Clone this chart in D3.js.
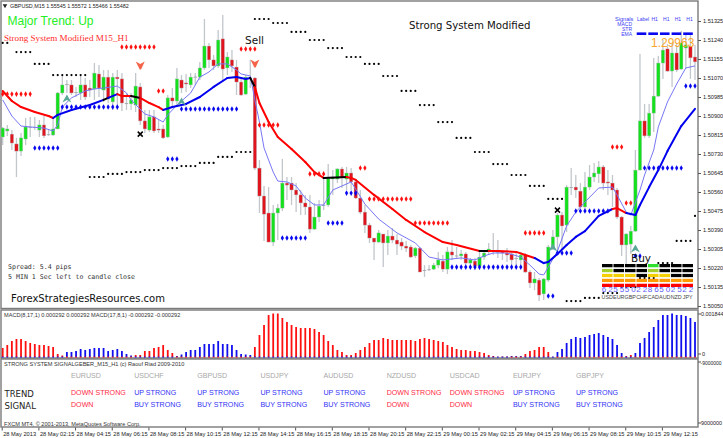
<!DOCTYPE html>
<html>
<head>
<meta charset="utf-8">
<script src="https://cdn.jsdelivr.net/npm/d3@7"></script>
<style>
html, body { margin: 0; padding: 0; background: #fff; }
svg { display: block; }
text { font-family: "Liberation Sans", Arial, sans-serif; }
.comic { font-family: "DejaVu Sans", sans-serif; }
.mono { font-family: "DejaVu Sans Mono", monospace; }
</style>
</head>
<body>
<div id="chart-area"></div>
<script>
// all prices below are in points above 1.50000
var priceBase = 1.5;
var priceTicks = [1325, 1240, 1155, 1070, 985, 900, 815, 730, 645, 560, 475, 390, 305, 220, 135, 50];

var opens = [806,833,819,775,743,797,851,849,837,860,
  819,815,842,1003,1039,1039,1007,1003,1039,1025,
  1021,1088,1016,1074,963,1074,1066,958,954,949,
  1030,878,837,896,842,842,806,981,967,1061,
  1048,1039,1074,1074,1115,1213,1151,1124,1245,1115,
  1151,1119,1052,998,1070,1070,667,542,466,336,
  466,488,600,600,569,547,511,493,394,448,
  500,502,618,618,663,618,645,605,533,470,
  412,354,336,372,332,363,345,336,318,314,
  274,309,211,213,215,233,251,215,292,274,
  274,283,242,251,229,269,292,296,292,292,
  287,283,265,256,278,202,153,166,104,166,
  309,359,457,412,580,582,564,493,582,627,
  641,672,605,600,569,448,323,327,385,658,
  878,811,913,989,1137,1200,1101,1182,1110,1204,1213,1164];
var highs = [851,860,837,802,824,891,896,896,882,900,
  837,887,1007,1083,1061,1061,1030,1079,1070,1061,
  1137,1128,1106,1106,1092,1106,1092,1003,1003,1092,
  1048,927,927,927,882,860,994,1025,1115,1083,
  1088,1092,1092,1142,1334,1227,1173,1285,1352,1186,
  1195,1151,1070,1083,1151,1074,703,587,582,502,
  506,708,627,627,600,569,547,547,511,524,
  627,685,658,667,672,672,667,614,569,502,
  421,354,390,372,390,399,372,354,341,323,
  314,314,233,233,242,292,278,314,345,314,
  300,292,265,265,300,300,332,377,345,300,
  309,292,292,292,287,211,202,175,175,323,
  390,466,470,591,667,636,600,649,681,690,
  699,681,658,636,578,453,377,408,748,1177,
  954,954,1160,1168,1240,1222,1227,1222,1280,1271,1262,1218];
var lows = [770,811,748,627,721,770,806,837,806,802,
  811,811,842,994,1003,994,985,972,972,985,
  972,985,963,958,927,927,922,927,927,918,
  860,824,828,824,824,797,802,940,945,1003,
  1007,1025,1039,1061,1106,1115,1106,1115,1061,1083,
  1097,994,989,994,1025,658,466,341,336,318,
  345,475,524,502,470,457,457,377,390,426,
  479,493,547,600,578,569,569,529,461,377,
  332,256,332,224,278,332,278,300,292,265,
  265,202,180,207,211,220,202,193,256,265,
  256,233,224,211,211,256,278,278,265,256,
  247,233,233,233,198,130,121,72,77,157,
  300,292,300,381,547,533,488,470,569,605,
  600,569,547,493,439,274,233,283,381,658,
  802,802,828,985,1066,1097,1030,1097,1106,1115,1066,1061];
var closes = [846,842,779,743,802,851,851,851,860,811,
  815,842,1003,1039,1043,1003,1007,1039,985,1016,
  1092,1025,1074,976,1074,1066,958,954,972,1034,
  878,842,896,833,837,802,981,967,1066,1025,
  1043,1074,1076,1115,1213,1151,1124,1240,1110,1164,
  1124,1052,994,1074,1066,667,542,461,336,466,
  488,600,591,569,547,511,493,394,448,497,
  502,623,627,663,623,645,605,533,470,412,
  354,336,377,332,363,345,327,318,309,269,
  309,202,207,215,233,256,215,292,278,276,
  283,242,256,229,269,287,305,298,290,287,
  278,256,263,278,202,153,171,99,171,314,
  359,457,408,582,582,569,493,582,627,645,
  672,600,600,569,448,323,372,385,658,878,
  811,913,989,1137,1195,1101,1182,1106,1227,1218,1160,1142];

// slow average, read at some candles; colour is trend of the piece starting there
var slowIdx = [0,2,4,7,10,11,12,15,19,22,23,25,26,28,30,32,34,35,37,40,43,46,49,51,53,54,55,56,58,60,63,66,68,70,75,76,77,81,85,88,92,96,99,104,106,108,112,114,116,118,119,121,123,125,127,130,133,134,136,138,139,141,143,145,148,151];
var slowVal = [1012,967,940,918,900,891,905,927,949,972,981,998,989,989,981,958,940,927,940,954,985,1030,1070,1074,1066,1070,1030,958,873,806,752,694,649,623,627,623,614,547,484,435,381,336,323,296,296,296,292,278,265,242,247,283,323,359,385,453,484,488,466,457,502,582,658,743,855,932];
var slowTrend = "rrrrrbbbbkbrrkrrrbbbbbbbbkrrrrrrrkrrrrrrrrrkrrrrbbbbbbbbrrbbbbbbb";

var fastIdx = [0,2,4,6,9,11,12,13,15,18,20,22,25,27,28,31,33,35,36,38,41,43,45,47,49,51,52,54,55,56,57,58,59,60,62,64,66,68,70,72,74,76,77,79,82,86,90,93,96,100,103,105,107,110,113,115,117,118,119,121,123,125,127,130,133,134,136,137,139,140,142,143,145,147,149,151];
var fastVal = [972,900,855,851,846,833,860,940,981,1012,1021,1025,1034,1003,972,909,896,873,905,949,1003,1074,1097,1133,1133,1106,1088,1079,972,873,757,703,649,609,605,587,533,502,502,569,587,605,573,506,439,377,332,269,256,265,256,274,287,287,269,233,193,189,224,296,408,470,515,578,582,547,470,457,569,636,748,851,963,1043,1115,1124];

// black stop dots: first candle of each run of 4 and its level
var stopStart = [0,3,7,11,15,19,23,27,31,35,39,43,47,51,55,59,63,67,71,75,79,83,87,91,95,99,103,107,111,115,119,123,127,131,135,139,143,147,151];
var stopLevel = [1227,1186,1133,1083,1083,627,641,649,658,667,676,690,717,739,1334,1316,1276,1240,1204,1164,1133,1079,1012,949,873,802,739,685,636,587,529,72,86,108,135,175,242,341,453];

var redStart = [0,26,34,52,56,67,78,80,90,114,133,136];
var redEnd = [6,33,35,55,60,70,79,89,97,118,135,137];
var redLevel = [998,1209,1012,1200,860,641,667,529,421,377,761,511];

var blueStart = [7,13,39,36,61,71,75,98,119,121,125,138,140,149];
var blueEnd = [12,25,51,38,66,74,77,113,120,124,132,139,148,151];
var blueLevel = [757,940,931,708,354,421,555,224,95,287,475,274,667,1034];

var sellIdx = [30,55];
var sellVal = [1128,1137];
var buyIdx = [14,39,120,138];
var buyVal = [976,963,309,305];
var crossIdx = [30,121];
var crossVal = [819,479];

// histogram in millionths, above zero is MACD(8,17,1), below zero is its mirror MACD(17,8,1)
var macdValues = [382,509,678,763,763,678,594,551,509,509,
  466,424,127,64,-212,-212,-254,-339,-297,-339,
  -382,-382,-382,-254,-297,-339,-254,-127,-64,85,
  85,254,254,382,424,509,297,170,-42,-106,
  -212,-297,-297,-424,-551,-551,-551,-678,-551,-551,
  -509,-297,-127,-106,-85,424,933,1357,1781,1844,
  1844,1654,1484,1357,1272,1230,1230,1230,1187,1060,
  933,678,509,297,212,85,85,170,297,424,
  594,721,721,806,763,721,721,721,721,721,
  678,763,806,763,721,678,636,509,424,339,
  297,297,254,254,212,170,85,42,10,21,
  21,-42,-42,-42,127,254,297,424,424,212,
  10,-212,-339,-594,-763,-848,-806,-848,-933,-975,
  -1018,-933,-848,-763,-509,-170,42,85,-170,-594,
  -806,-1060,-1272,-1569,-1781,-1781,-1844,-1781,-1781,-1738,-1654,-1484];

var timeLabels = ["28 May 2013","28 May 02:15","28 May 04:15","28 May 06:15","28 May 08:15","28 May 10:15","28 May 12:15","28 May 14:15","28 May 16:15","28 May 18:15","28 May 20:15","28 May 22:15","29 May 00:15","29 May 02:15","29 May 04:15","29 May 06:15","29 May 08:15","29 May 10:15","29 May 12:15"];

var pairs = ["EURUSD","USDCHF","GBPUSD","USDJPY","AUDUSD","NZDUSD","USDCAD","EURJPY","GBPJPY"];
var trendSignals = ["DOWN STRONG","UP STRONG","UP STRONG","UP STRONG","UP STRONG","DOWN STRONG","DOWN STRONG","UP STRONG","UP STRONG"];
var entrySignals = ["DOWN","BUY STRONG","BUY STRONG","BUY STRONG","BUY STRONG","DOWN","DOWN","BUY STRONG","BUY STRONG"];

var currencies = ["USD","EUR","GBP","CHF","CAD","AUD","NZD","JPY"];
var strengths = ["62","55","50","22","86","50","25","22"];
var strengthColors = ["#ff0000","#ff9a00","#f5d000","#a2cf2e","#2fe02f"];

var signalTimeframes = ["Label","H1","H1","H1","H1"];
var signalRows = ["MACD","STR","EMA"];

var svg = d3.select("#chart-area").append("svg").attr("width", 723).attr("height", 438);

var x = d3.scaleLinear().domain([0, 151]).range([2.7, 695]);
var y = d3.scaleLinear().domain([1.5005, 1.51325]).range([306, 21]);
var py = function(v) { return y(priceBase + v / 100000); };
var macdY = d3.scaleLinear().domain([0, 0.001844]).range([357, 313.5]);

var frameColor = "#7a7a7a";
[[1, 1, 697, 307.5], [1, 310, 697, 48], [1, 359, 697, 68]].forEach(function(f) {
  svg.append("rect").attr("x", f[0]).attr("y", f[1]).attr("width", f[2]).attr("height", f[3])
    .attr("fill", "none").attr("stroke", frameColor).attr("stroke-width", 1.4);
});

// candles
var candles = svg.append("g");
opens.forEach(function(o, i) {
  var c = closes[i];
  var flat = Math.abs(o - c) <= 4;
  candles.append("line").attr("x1", x(i)).attr("x2", x(i))
    .attr("y1", py(highs[i])).attr("y2", py(lows[i]))
    .attr("stroke", "#c2c7cc").attr("stroke-width", 1.3);
  candles.append("rect").attr("x", x(i) - 1.7).attr("width", 3.4)
    .attr("y", py(Math.max(o, c)))
    .attr("height", Math.max(1, Math.abs(py(o) - py(c))))
    .attr("fill", flat ? "#a8adb2" : (c > o ? "#14e01e" : "#e0141c"))
    .attr("stroke", flat ? "none" : "#b9bdc2").attr("stroke-width", 0.4);
});

// thin fast average
var line = d3.line().x(function(d) { return x(d[0]); }).y(function(d) { return py(d[1]); });
svg.append("path").attr("d", line(fastIdx.map(function(d, i) { return [d, fastVal[i]]; })))
  .attr("fill", "none").attr("stroke", "#7777f5").attr("stroke-width", 1);

// slow average, coloured piece by piece
var trendColor = { r: "#ff0000", b: "#0000ee", k: "#000000" };
slowIdx.forEach(function(d, i) {
  if (i == slowIdx.length - 1) return;
  svg.append("path").attr("d", line([[d, slowVal[i]], [slowIdx[i + 1], slowVal[i + 1]]]))
    .attr("fill", "none").attr("stroke", trendColor[slowTrend[i]])
    .attr("stroke-width", 2).attr("stroke-linecap", "round");
});

// dots
stopStart.forEach(function(s, k) {
  var run = k == 0 ? 2 : (s == 151 ? 1 : 4);
  d3.range(run).forEach(function(j) {
    svg.append("circle").attr("cx", x(s + j)).attr("cy", py(stopLevel[k])).attr("r", 1.1).attr("fill", "#000");
  });
});
var diamond = d3.symbol().type(d3.symbolDiamond).size(9);
function drawRuns(starts, ends, levels, color) {
  starts.forEach(function(s, k) {
    d3.range(s, ends[k] + 1).forEach(function(i) {
      svg.append("path").attr("d", diamond)
        .attr("transform", "translate(" + x(i) + "," + py(levels[k]) + ")")
        .attr("fill", color);
    });
  });
}
drawRuns(redStart, redEnd, redLevel, "#ff1010");
drawRuns(blueStart, blueEnd, blueLevel, "#0808f0");

// arrows and crosses
sellIdx.forEach(function(d, i) {
  svg.append("path").attr("d", "M-4.5,-3.5 L0,-1 L4.5,-3.5 L0.8,4.5 L-0.5,4.5 Z")
    .attr("transform", "translate(" + x(d) + "," + py(sellVal[i]) + ")")
    .attr("fill", "#f4644a");
});
buyIdx.forEach(function(d, i) {
  svg.append("path").attr("d", "M0,-4.5 L4.5,3.5 L0,1 L-4.5,3.5 Z")
    .attr("transform", "translate(" + x(d) + "," + py(buyVal[i]) + ")")
    .attr("fill", "#5aa898");
});
crossIdx.forEach(function(d, i) {
  svg.append("path").attr("d", "M-2.5,-2.5 L2.5,2.5 M2.5,-2.5 L-2.5,2.5")
    .attr("transform", "translate(" + x(d) + "," + py(crossVal[i]) + ")")
    .attr("stroke", "#000").attr("stroke-width", 1.5);
});

// strength table
var colX = d3.scaleBand().domain(currencies).range([602, 693]).paddingInner(0.08);
var rowY = d3.scaleBand().domain([4, 3, 2, 1, 0]).range([264, 287]).paddingInner(0.34);
currencies.forEach(function(c, k) {
  var lit = Math.floor(+strengths[k] / 20) + 1;
  strengthColors.forEach(function(col, level) {
    svg.append("rect").attr("x", colX(c)).attr("y", rowY(level))
      .attr("width", colX.bandwidth()).attr("height", rowY.bandwidth())
      .attr("fill", level < lit ? col : "#000");
  });
  var mid = colX(c) + colX.bandwidth() / 2;
  svg.append("text").attr("x", mid - 3.2).attr("y", 292).attr("text-anchor", "middle")
    .attr("font-size", 8).attr("fill", "#5a5af5").text(strengths[k][0]);
  svg.append("text").attr("x", mid + 3.2).attr("y", 292).attr("text-anchor", "middle")
    .attr("font-size", 8).attr("fill", "#5a5af5").text(strengths[k][1]);
  svg.append("text").attr("x", mid).attr("y", 298.5).attr("text-anchor", "middle")
    .attr("font-size", 5.4).attr("fill", "#444").text(c);
});

// signal block top right
function label(tx, ty, str, size, color, cls, anchor) {
  return svg.append("text").attr("x", tx).attr("y", ty).attr("font-size", size)
    .attr("fill", color).attr("class", cls || null).attr("text-anchor", anchor || "start").text(str);
}
label(615, 21, "Signals", 5.6, "#3a3af5");
var tfX = d3.scalePoint().domain(d3.range(signalTimeframes.length)).range([641.5, 688]);
signalTimeframes.forEach(function(t, i) {
  label(tfX(i) + 1.5, 21, t, 5, "#3a3af5", null, "middle");
  svg.append("rect").attr("x", tfX(i) - 4.8).attr("y", 32.4).attr("width", 9.6).attr("height", 2.6).attr("fill", "#0808f0");
});
signalRows.forEach(function(t, i) {
  label(632, 26 + i * 5, t, 5, "#3a3af5", null, "end");
});
label(651, 47, "1.29963", 12, "#f9a62a");

// texts on the main chart
svg.append("path").attr("d", d3.symbol().type(d3.symbolTriangle).size(9)).attr("transform", "translate(5,5.5) rotate(180)").attr("fill", "#222");
label(10, 8, "GBPUSD,M15  1.55545 1.55572 1.55466 1.55482", 5.4, "#222");
label(7.5, 25, "Major Trend: Up", 12, "#22ee22");
label(4, 41, "Strong System Modified M15_H1", 9.1, "#ff2a2a").style("font-family", "'Liberation Serif', serif");
label(245, 44, "Sell", 10.5, "#111", "comic");
label(409, 29, "Strong System Modified", 10.2, "#111", "comic");
label(631, 262, "Buy", 10.5, "#111", "comic");
label(8, 269, "Spread: 5.4 pips", 6.6, "#333", "mono");
label(8, 279, "5 MIN 1 Sec left to candle close", 6.6, "#333", "mono");
label(11, 302, "ForexStrategiesResources.com", 10, "#111", "comic");

// MACD panel
label(4, 317, "MACD(8,17,1) 0.000292 0.000292  MACD(17,8,1) -0.000292 -0.000292", 5.6, "#333");
macdValues.forEach(function(v, i) {
  var val = Math.abs(v) / 1000000;
  var up = v > 0;
  svg.append("rect").attr("x", x(i) - 0.9).attr("width", 1.8)
    .attr("y", macdY(val)).attr("height", macdY(0) - macdY(val))
    .attr("fill", up ? "#ff1010" : "#1010ee");
  svg.append("rect").attr("x", x(i) - 0.9).attr("width", 1.8)
    .attr("y", macdY(0) - 0.4).attr("height", 1)
    .attr("fill", up ? "#1010ee" : "#ff1010");
});

// signal panel
label(4, 366, "STRONG SYSTEM SIGNALGEBER_M15_H1 (c) Raouf Riad 2009-2010", 5.6, "#333");
label(4.5, 396.5, "TREND", 8.5, "#222", "comic");
label(4.5, 408.5, "SIGNAL", 8.5, "#222", "comic");
var pairX = d3.scalePoint().domain(pairs).range([71, 576]);
pairs.forEach(function(p, i) {
  var isDown = entrySignals[i] == "DOWN";
  var color = isDown ? "#ff2a44" : "#3434f5";
  label(pairX(p), 378, p, 7.1, "#a8a8a8");
  label(pairX(p), 395, trendSignals[i], 7.1, color);
  label(pairX(p), 407, entrySignals[i], 7.1, color);
});
label(4, 425.5, "FXCM MT4, \u00a9 2001-2013, MetaQuotes Software Corp.", 5.6, "#333");

// axes
var priceAxis = d3.axisRight(y)
  .tickValues(priceTicks.map(function(d) { return priceBase + d / 100000; }))
  .tickFormat(d3.format(".5f")).tickSize(3).tickPadding(2);
var pa = svg.append("g").attr("transform", "translate(698,0)").call(priceAxis);
pa.select(".domain").remove();
pa.selectAll("text").attr("font-size", 5.6).attr("fill", "#222").style("font-family", "'Liberation Sans', sans-serif");
pa.selectAll("line").attr("stroke", "#555");

var timeAxis = d3.axisBottom(x)
  .tickValues(timeLabels.map(function(d, i) { return i * 8; }))
  .tickFormat(function(d) { return timeLabels[d / 8]; }).tickSize(3).tickPadding(1);
var ta = svg.append("g").attr("transform", "translate(-1,427.5)").call(timeAxis);
ta.select(".domain").remove();
ta.selectAll("text").attr("font-size", 5.7).attr("fill", "#222").attr("text-anchor", "start").attr("dx", 1)
  .style("font-family", "'Liberation Sans', sans-serif");
ta.selectAll("line").attr("stroke", "#555");

label(701, 316, "0.001844", 5.4, "#222");
label(702, 356, "0", 5.6, "#222");
label(700.5, 364.5, "-9000000", 5, "#222");
label(701, 425, "9000000", 5.4, "#222");
[314, 354, 362, 423].forEach(function(ty) {
  svg.append("line").attr("x1", 698).attr("x2", 701).attr("y1", ty).attr("y2", ty).attr("stroke", "#555");
});
</script>
</body>
</html>
